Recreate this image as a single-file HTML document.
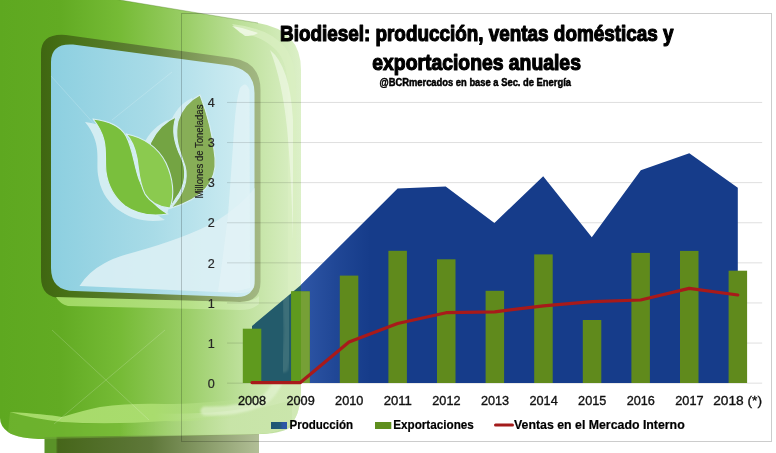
<!DOCTYPE html>
<html><head><meta charset="utf-8"><title>Biodiesel</title>
<style>
html,body{margin:0;padding:0;background:#fff;}
body{width:776px;height:453px;overflow:hidden;}
svg{display:block;}
text{font-family:"Liberation Sans",Arial,sans-serif;}
</style></head>
<body>
<svg width="776" height="453" viewBox="0 0 776 453">
<defs>
  <linearGradient id="gBody" x1="0" y1="0" x2="301" y2="0" gradientUnits="userSpaceOnUse">
    <stop offset="0" stop-color="#5ea820"/>
    <stop offset="0.2" stop-color="#62ab23"/>
    <stop offset="0.4" stop-color="#76bb36"/>
    <stop offset="0.6" stop-color="#97cc62"/>
    <stop offset="0.8" stop-color="#bde09a"/>
    <stop offset="1" stop-color="#dcf0c8"/>
  </linearGradient>
  <linearGradient id="gBase" x1="45" y1="0" x2="258" y2="0" gradientUnits="userSpaceOnUse">
    <stop offset="0" stop-color="#5a9228"/>
    <stop offset="0.05" stop-color="#5a9228"/>
    <stop offset="0.06" stop-color="#46661a"/>
    <stop offset="0.5" stop-color="#5f783a"/>
    <stop offset="1" stop-color="#b1be96"/>
  </linearGradient>
  <linearGradient id="gScreen" x1="50" y1="0" x2="255" y2="0" gradientUnits="userSpaceOnUse">
    <stop offset="0" stop-color="#8ccfe0"/>
    <stop offset="0.5" stop-color="#a8dbe7"/>
    <stop offset="1" stop-color="#d2eef3"/>
  </linearGradient>
  <linearGradient id="gFrame" x1="41" y1="0" x2="261" y2="0" gradientUnits="userSpaceOnUse">
    <stop offset="0" stop-color="#3f6611"/>
    <stop offset="0.12" stop-color="#477116"/>
    <stop offset="0.5" stop-color="#62823a"/>
    <stop offset="0.8" stop-color="#8fa66a"/>
    <stop offset="1" stop-color="#a3b884"/>
  </linearGradient>
  <linearGradient id="gHaze" x1="301" y1="0" x2="370" y2="0" gradientUnits="userSpaceOnUse">
    <stop offset="0" stop-color="#7aa8ff" stop-opacity="0.24"/>
    <stop offset="0.5" stop-color="#7aa8ff" stop-opacity="0.1"/>
    <stop offset="1" stop-color="#7aa8ff" stop-opacity="0"/>
  </linearGradient>
  <filter id="fBlur" x="-20%" y="-20%" width="140%" height="140%"><feGaussianBlur stdDeviation="1.2"/></filter>
  <linearGradient id="gCorner" x1="120" y1="0" x2="230" y2="0" gradientUnits="userSpaceOnUse">
    <stop offset="0" stop-color="#cfe8b2" stop-opacity="0"/>
    <stop offset="1" stop-color="#cfe8b2" stop-opacity="0.85"/>
  </linearGradient>
  <linearGradient id="gWave" x1="10" y1="0" x2="250" y2="0" gradientUnits="userSpaceOnUse">
    <stop offset="0" stop-color="#a6da68"/>
    <stop offset="0.6" stop-color="#a9dc6e"/>
    <stop offset="1" stop-color="#c9e8a8" stop-opacity="0"/>
  </linearGradient>
  <linearGradient id="gSw" x1="271" y1="0" x2="287" y2="0" gradientUnits="userSpaceOnUse">
    <stop offset="0" stop-color="#1f5672"/>
    <stop offset="0.55" stop-color="#205a78"/>
    <stop offset="0.75" stop-color="#2c58a6"/>
    <stop offset="1" stop-color="#2c58a6"/>
  </linearGradient>
  <linearGradient id="gHl" x1="56" y1="0" x2="260" y2="0" gradientUnits="userSpaceOnUse">
    <stop offset="0" stop-color="#9fd862"/>
    <stop offset="0.6" stop-color="#b2df80"/>
    <stop offset="1" stop-color="#d4ecbc"/>
  </linearGradient>
  <clipPath id="cPump"><rect x="0" y="0" width="301" height="453"/></clipPath>
  <clipPath id="cOut"><rect x="301" y="0" width="475" height="453"/></clipPath>
</defs>
<rect width="776" height="453" fill="#fff"/>

<!-- pump body -->
<path d="M0,-20 L258,23 Q301,30 301,70 L301,392 C300,410 296,420 290,425 C284,430 275,433 259,434 L45,439 Q18,439 8,432 Q0,426 0,418 Z" fill="url(#gBody)"/>
<path d="M0,-20 L258,23" stroke="#4f7f22" stroke-opacity="0.45" stroke-width="0.8" fill="none"/>
<!-- right rim bands -->
<path d="M232,24 Q268,28 284,46 Q296,60 296,90 L296,340 L288,340 L288,92 Q288,62 276,50 Q262,36 240,33 Z" fill="#d9efc2" opacity="0.75"/>
<path d="M232,26 Q246,28 258,33 Q254,36 245,36 Z" fill="#f2faea" opacity="0.8"/>
<path d="M270,50 Q290,66 293,120 L293,240 Q291,170 287,128 Q282,80 270,50 Z" fill="#eef8e4" opacity="0.7"/>
<!-- base -->
<path d="M44.5,437 L259,434 L259,453 L44.5,453 Z" fill="url(#gBase)"/>
<!-- lower body lighter zone -->
<path d="M10,412 Q40,417 62,422 Q95,426 160,421 Q230,418 292,400 L292,426 Q284,433 262,434 L45,439 Q18,439 8,432 Z" fill="#7dbd3c" opacity="0.45"/>
<!-- bottom-right light corner -->
<path d="M120,412 Q230,418 266,402 Q291,388 294,330 L301,330 L301,392 C300,410 296,420 290,425 C284,430 275,433 259,434 L120,437 Z" fill="url(#gCorner)"/>
<!-- wave highlight -->
<path d="M10,412 Q45,414 62,417 Q85,410 100,407 Q130,403 165,404 Q200,404 250,398 L250,417 Q190,422 165,421 Q110,425 62,422 Q30,418 10,412 Z" fill="url(#gWave)"/>
<!-- glossy arc -->
<path d="M205,411 Q240,412 262,401 Q285,388 288,330" fill="none" stroke="#e6f4d6" stroke-width="9" stroke-linecap="round" opacity="0.6" filter="url(#fBlur)"/>

<!-- screen frame -->
<path d="M41,53 Q41,33 66,35 L232,58 Q260.5,62 260.5,90 L260.5,282 Q260.5,302 240,302 L62,298 Q41,298 41,277 Z" fill="url(#gFrame)"/>
<!-- highlight under screen -->
<path d="M56,297 L240,302 Q253,302 259,296 L259,304 Q252,310 240,310 L68,306 Q60,304 56,297 Z" fill="url(#gHl)"/>
<!-- screen inner -->
<path d="M51,62 Q51,43 73,44.5 L226,65 Q254.5,68 254.5,93 L254.5,280 Q254.5,297 237,297 L75,291 Q51,291 51,268 Z" fill="url(#gScreen)"/>
<!-- swoosh -->
<path d="M79.5,286 Q88,272 104,263.5 Q115,257 135,252 Q185,238 215,222 Q242,205 254.5,188 L254.5,284 Q254.5,293 240,293 Z" fill="#dbf0f4" opacity="0.9"/>
<!-- reflection stripe -->
<path d="M240,88 Q246,80 249.5,90 L250,288 Q236,292 218,292 Q224,250 228,215 Q231,175 234,130 Q236,100 240,88 Z" fill="#e4f4f7" opacity="0.7"/>

<!-- sparkles -->
<g stroke="#ffffff" stroke-width="0.8" opacity="0.22" fill="none">
  <line x1="51" y1="76" x2="96" y2="126"/>
  <line x1="172" y1="72" x2="112" y2="120"/>
  <line x1="54" y1="424" x2="165" y2="330"/>
  <line x1="52" y1="330" x2="149" y2="420"/>
</g>
<!-- leaves -->
<g fill="#d3edf2" transform="translate(-8,3)">
  <path d="M93,119 C110,121 121,127 126,136 C133,149 134,165 139,179 C145,195 154,206 168,214 C150,217 135,213 125,206 C114,197 108,186 106,172 C104,155 110,140 93,119 Z"/><path d="M126,134 C143,137 158,147 166,163 C173,178 175,195 170,208 C158,207 150,202 145,194 C139,183 139,170 137,158 C135,148 132,140 126,134 Z"/><path d="M176,117 C171,131 175,145 181,157 C187,170 186,185 176,198 L170,208 C163,190 160,172 154,158 C150,150 149,145 151,142 C157,130 166,121 176,117 Z"/><path d="M200,95 C206,110 213,135 215,158 C217,180 205,198 171,208 C182,196 189,181 185,166 C180,151 174,140 178,121 C182,108 190,100 200,95 Z"/>
</g>
<g fill="#d3edf2" transform="translate(-3,6)">
  <path d="M93,119 C110,121 121,127 126,136 C133,149 134,165 139,179 C145,195 154,206 168,214 C150,217 135,213 125,206 C114,197 108,186 106,172 C104,155 110,140 93,119 Z"/><path d="M126,134 C143,137 158,147 166,163 C173,178 175,195 170,208 C158,207 150,202 145,194 C139,183 139,170 137,158 C135,148 132,140 126,134 Z"/>
</g>
<g stroke="#d6eff3" stroke-width="1.1" stroke-linejoin="round">
  <path d="M93,119 C110,121 121,127 126,136 C133,149 134,165 139,179 C145,195 154,206 168,214 C150,217 135,213 125,206 C114,197 108,186 106,172 C104,155 110,140 93,119 Z" fill="#7abf3d"/>
  <path d="M176,117 C171,131 175,145 181,157 C187,170 186,185 176,198 L170,208 C163,190 160,172 154,158 C150,150 149,145 151,142 C157,130 166,121 176,117 Z" fill="#74a443"/>
  <path d="M126,134 C143,137 158,147 166,163 C173,178 175,195 170,208 C158,207 150,202 145,194 C139,183 139,170 137,158 C135,148 132,140 126,134 Z" fill="#8bca4f"/>
  <path d="M200,95 C206,110 213,135 215,158 C217,180 205,198 171,208 C182,196 189,181 185,166 C180,151 174,140 178,121 C182,108 190,100 200,95 Z" fill="#87ae57"/>
</g>

<!-- ============ CHART ============ -->
<g stroke-width="1">
  <line x1="227" y1="102.45" x2="762.2" y2="102.45" stroke="#000" stroke-opacity="0.13"/>
  <line x1="227" y1="142.55" x2="762.2" y2="142.55" stroke="#000" stroke-opacity="0.13"/>
  <line x1="227" y1="182.65" x2="762.2" y2="182.65" stroke="#000" stroke-opacity="0.13"/>
  <line x1="227" y1="222.75" x2="762.2" y2="222.75" stroke="#000" stroke-opacity="0.13"/>
  <line x1="227" y1="262.85" x2="762.2" y2="262.85" stroke="#000" stroke-opacity="0.13"/>
  <line x1="227" y1="302.95" x2="762.2" y2="302.95" stroke="#000" stroke-opacity="0.13"/>
  <line x1="227" y1="343.05" x2="762.2" y2="343.05" stroke="#000" stroke-opacity="0.13"/>
  <line x1="227" y1="383.15" x2="762.2" y2="383.15" stroke="#000" stroke-opacity="0.13"/>
</g>

<!-- area -->
<g>
  <path clip-path="url(#cOut)" d="M252,326 L300.4,285.4 L349,237 L397.6,188.6 L445.7,186.4 L494.4,222.9 L543.2,176.3 L591.8,237.3 L640.8,170.3 L689.3,153.3 L737.8,187.7 L737.8,383 L252,383 Z" fill="#163c8a"/>
  <path clip-path="url(#cPump)" d="M252,326 L300.4,285.4 L349,237 L397.6,188.6 L445.7,186.4 L494.4,222.9 L543.2,176.3 L591.8,237.3 L640.8,170.3 L689.3,153.3 L737.8,187.7 L737.8,383 L252,383 Z" fill="#235b6b"/>
</g>
<path clip-path="url(#cOut)" d="M252,326 L300.4,285.4 L349,237 L397.6,188.6 L397.6,383 L252,383 Z" fill="url(#gHaze)"/>
<!-- bars -->
<g fill="#608a1c">
  <rect x="242.8" y="328.7" width="18.5" height="54.3" fill="#5f9a1e"/>
  <rect x="291.2" y="291.4" width="18.5" height="91.6"/>
  <rect x="339.8" y="275.6" width="18.5" height="107.4"/>
  <rect x="388.4" y="250.8" width="18.5" height="132.2"/>
  <rect x="437" y="259.3" width="18.5" height="123.7"/>
  <rect x="485.6" y="290.8" width="18.5" height="92.2"/>
  <rect x="534.2" y="254.4" width="18.5" height="128.6"/>
  <rect x="582.8" y="320" width="18.5" height="63"/>
  <rect x="631.4" y="252.9" width="18.5" height="130.1"/>
  <rect x="680" y="250.9" width="18.5" height="132.1"/>
  <rect x="728.6" y="270.7" width="18.5" height="112.3"/>
  <rect x="291.2" y="291.4" width="9.8" height="91.6" fill="#5f9a1e"/>
  <rect x="301" y="291.4" width="8.7" height="91.6" fill="#76a036"/>
</g>
<path clip-path="url(#cPump)" d="M284,368 Q288,350 288,330 L287,300" fill="none" stroke="#e6f4d6" stroke-width="9" stroke-linecap="round" opacity="0.13" filter="url(#fBlur)"/>
<!-- line -->
<polyline points="252,382.6 300.4,382.6 349,342 397.6,323.5 446.2,312.7 494.8,311.8 543.4,305.8 592,301.6 640.6,300 689.2,288.4 737.8,295" fill="none" stroke="#a81a1a" stroke-width="3.2" stroke-linejoin="round" stroke-linecap="round"/>

<!-- y labels -->
<g font-size="12.6" fill="#262626" stroke="#262626" stroke-width="0.2" text-anchor="end">
  <text x="214.7" y="107.0">4</text>
  <text x="214.7" y="147.2">3</text>
  <text x="214.7" y="187.2">3</text>
  <text x="214.7" y="227.3">2</text>
  <text x="214.7" y="267.5">2</text>
  <text x="214.7" y="307.6">1</text>
  <text x="214.7" y="347.7">1</text>
  <text x="214.7" y="387.8">0</text>
</g>
<text transform="translate(202.7,151.6) rotate(-90)" text-anchor="middle" font-size="10" fill="#1e1e1e" stroke="#1e1e1e" stroke-width="0.15" textLength="94" lengthAdjust="spacingAndGlyphs">Millones de Toneladas</text>

<!-- x labels -->
<g font-size="12.9" fill="#111" stroke="#111" stroke-width="0.35" text-anchor="middle" lengthAdjust="spacingAndGlyphs">
  <text x="252" y="404.8" textLength="28.2" lengthAdjust="spacingAndGlyphs">2008</text>
  <text x="300.6" y="404.8" textLength="28.2" lengthAdjust="spacingAndGlyphs">2009</text>
  <text x="349.2" y="404.8" textLength="28.2" lengthAdjust="spacingAndGlyphs">2010</text>
  <text x="397.8" y="404.8" textLength="28.2" lengthAdjust="spacingAndGlyphs">2011</text>
  <text x="446.4" y="404.8" textLength="28.2" lengthAdjust="spacingAndGlyphs">2012</text>
  <text x="495" y="404.8" textLength="28.2" lengthAdjust="spacingAndGlyphs">2013</text>
  <text x="543.6" y="404.8" textLength="28.2" lengthAdjust="spacingAndGlyphs">2014</text>
  <text x="592.2" y="404.8" textLength="28.2" lengthAdjust="spacingAndGlyphs">2015</text>
  <text x="640.8" y="404.8" textLength="28.2" lengthAdjust="spacingAndGlyphs">2016</text>
  <text x="689.4" y="404.8" textLength="28.2" lengthAdjust="spacingAndGlyphs">2017</text>
  <text x="737.6" y="404.8" textLength="48.8" lengthAdjust="spacingAndGlyphs">2018 (*)</text>
</g>

<!-- legend -->
<rect x="271" y="422" width="16" height="7" fill="url(#gSw)"/>
<rect x="375" y="422" width="16.3" height="7" fill="#5f8f1e"/>
<line x1="495.5" y1="425" x2="512.5" y2="425" stroke="#a31b1b" stroke-width="3" stroke-linecap="round"/>
<g font-size="12.3" font-weight="bold" fill="#000" stroke="#000" stroke-width="0.2">
  <text x="289.5" y="429.3" textLength="63.5" lengthAdjust="spacingAndGlyphs">Producción</text>
  <text x="393.2" y="429.3" textLength="80.6" lengthAdjust="spacingAndGlyphs">Exportaciones</text>
  <text x="514" y="429.3" textLength="170.7" lengthAdjust="spacingAndGlyphs">Ventas en el Mercado Interno</text>
</g>

<!-- chart border -->
<rect x="181.5" y="13.5" width="590" height="428" fill="none" stroke="#000" stroke-opacity="0.2" stroke-width="1"/>

<!-- title -->
<g font-weight="bold" fill="#000" stroke="#000" stroke-linejoin="round">
  <text x="280" y="40.9" font-size="21.8" stroke-width="1.2" textLength="393.5" lengthAdjust="spacingAndGlyphs">Biodiesel: producción, ventas domésticas y</text>
  <text x="372.3" y="69.6" font-size="21.8" stroke-width="1.2" textLength="208.6" lengthAdjust="spacingAndGlyphs">exportaciones anuales</text>
  <text x="379.5" y="85.6" font-size="10" stroke-width="0.45" textLength="191.5" lengthAdjust="spacingAndGlyphs">@BCRmercados en base a Sec. de Energía</text>
</g>
</svg>
</body></html>
